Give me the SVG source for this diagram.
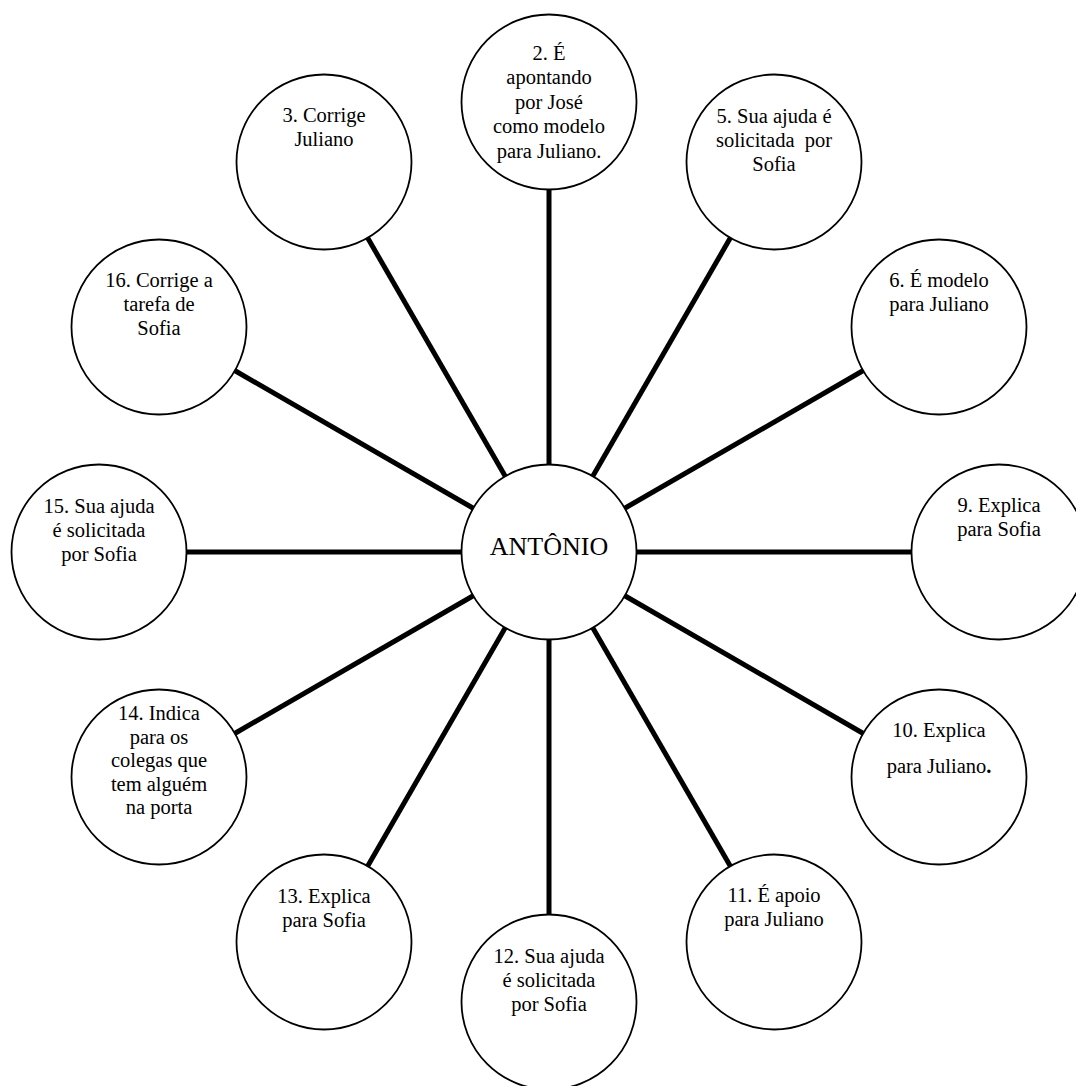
<svg xmlns="http://www.w3.org/2000/svg" width="1076" height="1086" viewBox="0 0 1076 1086">
<style>
.c{fill:#fff;stroke:#000;stroke-width:1.8}
.l{stroke:#000;stroke-width:5;stroke-linecap:butt}
text{font-family:"Liberation Serif","Times New Roman",serif;font-size:20.5px;fill:#000;text-anchor:middle}
.big{font-size:26px}
</style>
<rect width="1076" height="1086" fill="#fff"/>
<g id="connectors">
<line class="l" x1="549" y1="464.5" x2="549" y2="189.5"/>
<line class="l" x1="592.75" y1="476.2" x2="730.25" y2="238.1"/>
<line class="l" x1="624.8" y1="508.25" x2="862.9" y2="370.75"/>
<line class="l" x1="636.5" y1="552" x2="911.5" y2="552"/>
<line class="l" x1="624.8" y1="595.75" x2="862.9" y2="733.25"/>
<line class="l" x1="592.75" y1="627.8" x2="730.25" y2="865.9"/>
<line class="l" x1="549" y1="639.5" x2="549" y2="914.5"/>
<line class="l" x1="505.25" y1="627.8" x2="367.75" y2="865.9"/>
<line class="l" x1="473.2" y1="595.75" x2="235.1" y2="733.25"/>
<line class="l" x1="461.5" y1="552" x2="186.5" y2="552"/>
<line class="l" x1="473.2" y1="508.25" x2="235.1" y2="370.75"/>
<line class="l" x1="505.25" y1="476.2" x2="367.75" y2="238.1"/>
</g>
<g id="center">
<circle class="c" cx="549" cy="552" r="87.5"/>
<text class="big" x="549" y="555">ANTÔNIO</text>
</g>
<g id="n2">
<circle class="c" cx="549" cy="102" r="87.5"/>
<text x="549"><tspan x="549" y="60">2. É</tspan><tspan x="549" y="84">apontando</tspan><tspan x="549" y="108.5">por José</tspan><tspan x="549" y="133">como modelo</tspan><tspan x="549" y="157.5">para Juliano.</tspan></text>
</g>
<g id="n3">
<circle class="c" cx="324" cy="162" r="87.5"/>
<text><tspan x="324" y="122">3. Corrige</tspan><tspan x="324" y="146">Juliano</tspan></text>
</g>
<g id="n5">
<circle class="c" cx="774" cy="162" r="87.5"/>
<text><tspan x="774" y="123">5. Sua ajuda é</tspan><tspan x="774" y="147">solicitada&#160; por</tspan><tspan x="774" y="171">Sofia</tspan></text>
</g>
<g id="n16">
<circle class="c" cx="159" cy="327" r="87.5"/>
<text><tspan x="159" y="287">16. Corrige a</tspan><tspan x="159" y="311">tarefa de</tspan><tspan x="159" y="335">Sofia</tspan></text>
</g>
<g id="n6">
<circle class="c" cx="939" cy="327" r="87.5"/>
<text><tspan x="939" y="287">6. É modelo</tspan><tspan x="939" y="311">para Juliano</tspan></text>
</g>
<g id="n15">
<circle class="c" cx="99" cy="552" r="87.5"/>
<text><tspan x="99" y="513">15. Sua ajuda</tspan><tspan x="99" y="537">é solicitada</tspan><tspan x="99" y="561">por Sofia</tspan></text>
</g>
<g id="n9">
<circle class="c" cx="999" cy="552" r="87.5"/>
<text><tspan x="999" y="512">9. Explica</tspan><tspan x="999" y="536">para Sofia</tspan></text>
</g>
<g id="n14">
<circle class="c" cx="159" cy="777" r="87.5"/>
<text><tspan x="159" y="720">14. Indica</tspan><tspan x="159" y="743.5">para os</tspan><tspan x="159" y="767">colegas que</tspan><tspan x="159" y="790.5">tem alguém</tspan><tspan x="159" y="814">na porta</tspan></text>
</g>
<g id="n10">
<circle class="c" cx="939" cy="777" r="87.5"/>
<text><tspan x="939" y="737">10. Explica</tspan><tspan x="939" y="773">para Juliano<tspan font-weight="bold">.</tspan></tspan></text>
</g>
<g id="n13">
<circle class="c" cx="324" cy="942" r="87.5"/>
<text><tspan x="324" y="903">13. Explica</tspan><tspan x="324" y="927">para Sofia</tspan></text>
</g>
<g id="n12">
<circle class="c" cx="549" cy="1002" r="87.5"/>
<text><tspan x="549" y="963">12. Sua ajuda</tspan><tspan x="549" y="987">é solicitada</tspan><tspan x="549" y="1011">por Sofia</tspan></text>
</g>
<g id="n11">
<circle class="c" cx="774" cy="942" r="87.5"/>
<text><tspan x="774" y="902">11. É apoio</tspan><tspan x="774" y="926">para Juliano</tspan></text>
</g>
</svg>
